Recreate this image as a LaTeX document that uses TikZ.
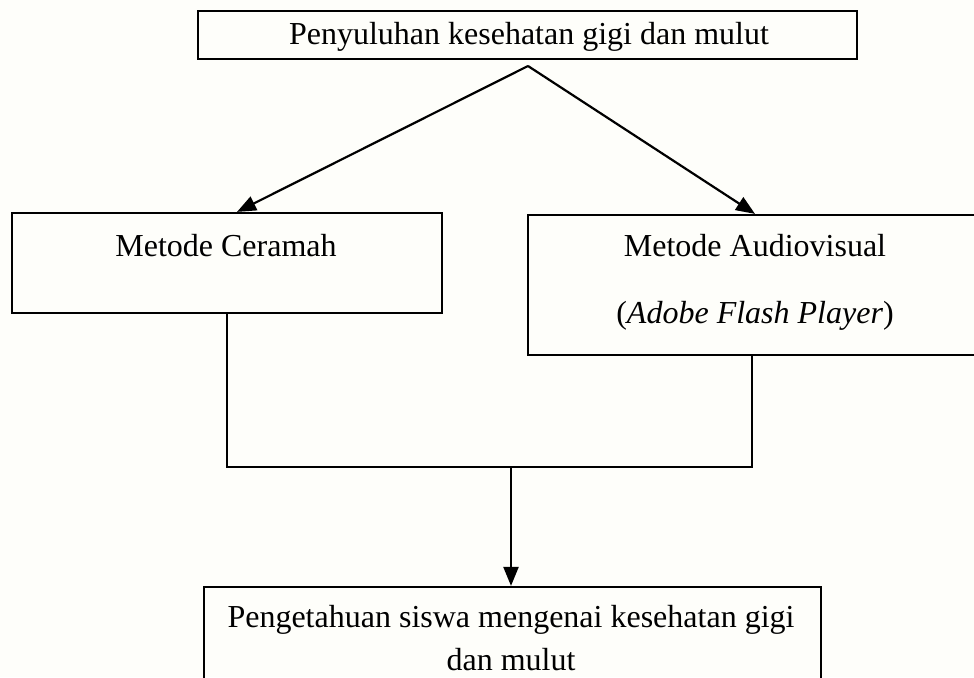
\documentclass[tikz,border=0pt]{standalone}
\usepackage{fontspec}
\setmainfont{Liberation Serif}
\usetikzlibrary{arrows.meta}
\definecolor{bgpaper}{RGB}{254,254,250}
\begin{document}
\begin{tikzpicture}[x=1pt,y=-1pt,
  box/.style={draw=black,line width=2.2pt,rectangle,inner sep=0pt},
  lbl/.style={inner sep=0pt,font=\fontsize{32}{38}\selectfont,anchor=center},
  conn/.style={draw=black,line width=2.2pt},
  arr/.style={conn,-{Triangle[length=19pt,width=15pt]}}]
\fill[bgpaper] (0,0) rectangle (974,677);
\useasboundingbox (0,0) rectangle (974,677);
% boxes
\node[box,minimum width=659pt,minimum height=48pt] (top) at (527.5,35) {};
\node[lbl] (toptext) at (529,37) {Penyuluhan kesehatan gigi dan mulut};
\node[box,minimum width=430pt,minimum height=100pt] (ceramah) at (227,263) {};
\node[lbl] (ceramahtext) at (226,246) {Metode Ceramah};
\node[box,minimum width=448pt,minimum height=140pt] (audio) at (752,285) {};
\node[lbl] (audiotext1) at (755,246) {Metode Audiovisual};
\node[lbl] (audiotext2) at (755,316) {(\textit{Adobe Flash Player})};
\node[box,minimum width=617pt,minimum height=120pt] (bottom) at (512.5,647) {};
\node[lbl] (bottomtext1) at (511,620) {Pengetahuan siswa mengenai kesehatan gigi};
\node[lbl] (bottomtext2) at (511,660) {dan mulut};
% connectors
\coordinate (apex) at (528,66);
\coordinate (join) at (511,467);
\draw[arr] (apex) -- ([xshift=10pt]ceramah.north);
\draw[arr] (apex) -- ([xshift=3pt]audio.north);
\draw[conn] (ceramah.south) |- (join) -| (audio.south);
\draw[arr] (join) -- (join |- bottom.north);
\end{tikzpicture}
\end{document}
